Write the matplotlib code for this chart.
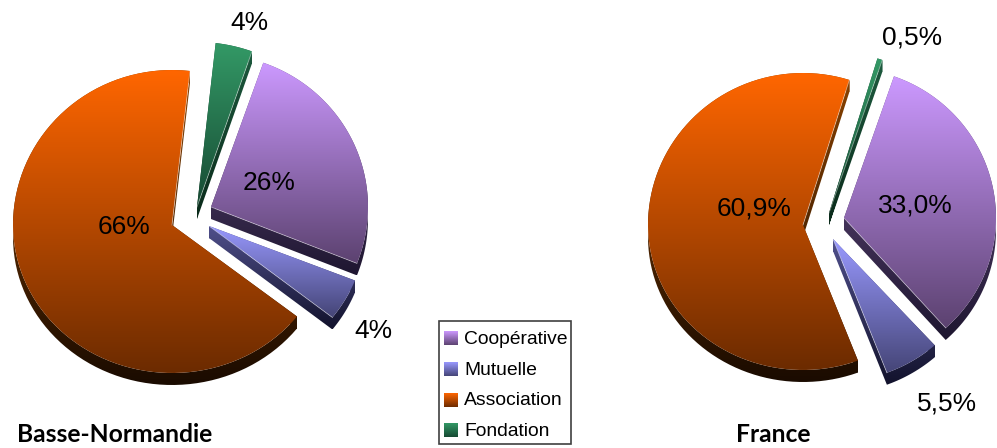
import numpy as np
import matplotlib
matplotlib.use('Agg')
import matplotlib.pyplot as plt
from matplotlib.colors import LinearSegmentedColormap
from matplotlib.path import Path
from matplotlib.patches import Rectangle

plt.rcParams['font.family'] = ['Liberation Sans', 'DejaVu Sans']

CATEGORIES = ['Coopérative', 'Mutuelle', 'Association', 'Fondation']

# wedge order on the chart, clockwise from the start angle
PIE_ORDER = ['Fondation', 'Coopérative', 'Mutuelle', 'Association']
BN_SHARES = [3.6, 25.6, 4.6, 66.2]
FR_SHARES = [0.5, 33.0, 5.9, 60.6]
BN_LABELS = ['4%', '26%', '4%', '66%']
FR_LABELS = ['0,5%', '33,0%', '5,5%', '60,9%']

# top colour, bottom colour, side top colour, side bottom colour
COLORS = {
    'Coopérative': ('#CC99FF', '#5C4270', '#6E5488', '#1E1630'),
    'Mutuelle': ('#9999FF', '#454577', '#50508C', '#12122C'),
    'Association': ('#FF6600', '#6C2B00', '#8A4200', '#1A0B00'),
    'Fondation': ('#339966', '#174A33', '#1E5C40', '#0A2A1A'),
}

# layout in pixels
BN_START, FR_START = 83.5, 72.6
BN_CENTERS = [(197, 207), (211, 207), (209, 226), (172, 225)]
FR_CENTERS = [(829, 213), (844, 218), (833, 239), (803, 225)]
# rx, ry above the centre, ry below the centre
BN_RADII = [(165, 165, 165), (157, 153, 153), (157, 148, 148), (159, 155, 148)]
FR_RADII = [(162, 162, 162), (152, 150, 148), (152, 143, 143), (155, 152, 145)]
BN_TEXT = [(249, 22.5), (269, 183), (373, 331.5), (124, 226.5)]
FR_TEXT = [(912, 37.5), (915, 205), (947, 403), (754, 208.5)]
DEPTH = 12


def gradient_fill(ax, path, top, bottom):
    """Fills a path with a vertical gradient over its own height."""
    x0, y0 = path.vertices.min(axis=0)
    x1, y1 = path.vertices.max(axis=0)
    cmap = LinearSegmentedColormap.from_list('g', [top, bottom])
    im = ax.imshow(np.linspace(0, 1, 256)[:, None], cmap=cmap, aspect='auto',
                   extent=(x0, x1, y1, y0), interpolation='bilinear', zorder=2)
    im.set_clip_path(path, transform=ax.transData)


def wedge_points(center, radii, t0, t1):
    rx, ry_up, ry_down = radii
    t = np.radians(np.linspace(t0, t1, 90))
    s = np.sin(t)
    xs = center[0] + rx * np.cos(t)
    ys = center[1] - np.where(s > 0, ry_up, ry_down) * s
    return np.vstack([[center], np.column_stack([xs, ys])])


def extruded_path(points):
    """Outline swept downwards: every edge becomes a quad, all wound the same way."""
    verts, codes = [], []
    for i in range(len(points)):
        a, b = points[i], points[(i + 1) % len(points)]
        quad = [a, b, b + (0, DEPTH), a + (0, DEPTH)]
        area = sum(quad[j][0] * quad[(j + 1) % 4][1] - quad[(j + 1) % 4][0] * quad[j][1]
                   for j in range(4))
        if area < 0:
            quad = quad[::-1]
        verts += quad + [quad[0]]
        codes += [Path.MOVETO, Path.LINETO, Path.LINETO, Path.LINETO, Path.CLOSEPOLY]
    return Path(np.array(verts), codes)


def draw_pie(ax, shares, labels, start, centers, radii, text_pos):
    angle = start
    for name, share, center, r in zip(PIE_ORDER, shares, centers, radii):
        end = angle - share * 3.6
        pts = wedge_points(center, r, angle, end)
        top, bottom, side_top, side_bottom = COLORS[name]
        gradient_fill(ax, extruded_path(pts), side_top, side_bottom)
        gradient_fill(ax, Path(np.vstack([pts, pts[0]]), closed=True), top, bottom)
        # thin light rim where the top face meets the cut
        ax.plot([center[0], pts[-1][0]], [center[1], pts[-1][1]],
                color='white', alpha=0.45, lw=0.6, zorder=3)
        angle = end
    for label, (x, y) in zip(labels, text_pos):
        ax.text(x, y, label, fontsize=19, color='black', ha='center', va='center', zorder=4)


def draw_legend(ax):
    ax.add_patch(Rectangle((438.5, 321.5), 132, 123, facecolor='white',
                           edgecolor='#404040', lw=1.2, zorder=1))
    for i, name in enumerate(CATEGORIES):
        y = 338.5 + i * 30.6
        box = Path([(444, y - 7), (458, y - 7), (458, y + 7), (444, y + 7), (444, y - 7)],
                   closed=True)
        gradient_fill(ax, box, COLORS[name][0], COLORS[name][1])
        ax.text(464, y + 1, name, fontsize=13.9, color='black', ha='left', va='center', zorder=4)


def main():
    fig = plt.figure(figsize=(9.97, 4.48), dpi=100)
    ax = fig.add_axes([0, 0, 1, 1])

    draw_pie(ax, BN_SHARES, BN_LABELS, BN_START, BN_CENTERS, BN_RADII, BN_TEXT)
    draw_pie(ax, FR_SHARES, FR_LABELS, FR_START, FR_CENTERS, FR_RADII, FR_TEXT)
    draw_legend(ax)

    ax.text(17, 435, 'Basse-Normandie', family='Lato', fontweight='bold', fontsize=17.7,
            ha='left', va='center')
    ax.text(773, 435, 'France', family='Lato', fontweight='bold', fontsize=17.7,
            ha='center', va='center')

    ax.set_xlim(0, 997)
    ax.set_ylim(448, 0)
    ax.axis('off')
    fig.savefig('out.png', dpi=100)


if __name__ == "__main__":
    main()
